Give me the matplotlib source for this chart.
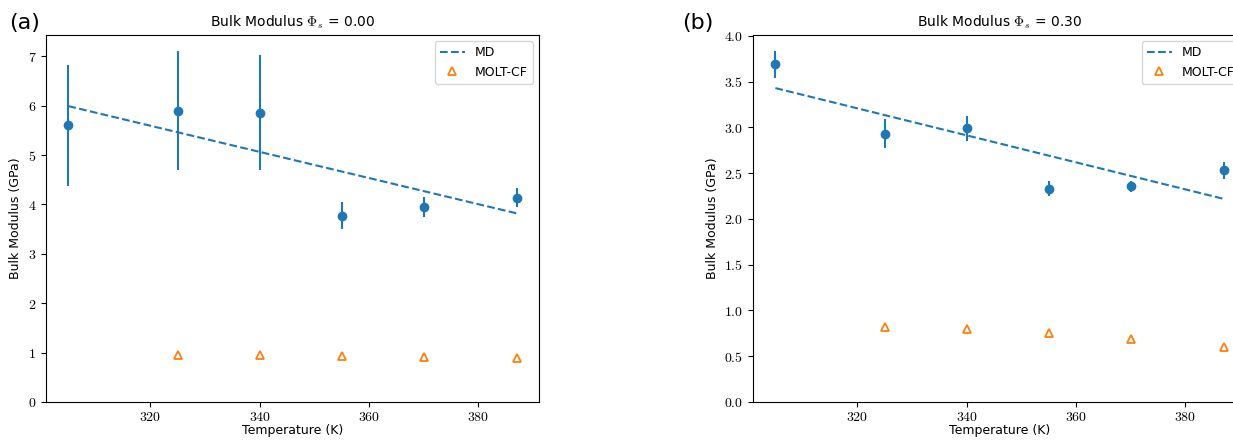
import numpy as np
import matplotlib
matplotlib.use("Agg")
import matplotlib.pyplot as plt
from matplotlib.ticker import FormatStrFormatter

plt.rcParams['mathtext.fontset'] = 'cm'

#### data

temps = [305, 325, 340, 355, 370, 387]
molt_temps = [325, 340, 355, 370, 387]

# (a) phi_s = 0.00
md_a = [5.60, 5.90, 5.86, 3.77, 3.95, 4.14]
md_err_a = [1.22, 1.21, 1.16, 0.27, 0.20, 0.20]
fit_a = [5.99, 3.82]          # dashed MD trend at first / last temperature
molt_a = [0.95, 0.95, 0.93, 0.92, 0.90]

# (b) phi_s = 0.30
md_b = [3.69, 2.93, 2.99, 2.33, 2.36, 2.53]
md_err_b = [0.15, 0.16, 0.14, 0.08, 0.06, 0.09]
fit_b = [3.43, 2.22]
molt_b = [0.82, 0.80, 0.755, 0.69, 0.60]

titles = [r'Bulk Modulus $\Phi_s$ = 0.00', r'Bulk Modulus $\Phi_s$ = 0.30']
panel_tags = ['(a)', '(b)']
yfmt = [r'$%d$', r'$%.1f$']

fig = plt.figure(figsize=(12.33, 4.42), dpi=100)
ax_a = fig.add_axes([0.0373, 0.0905, 0.3998, 0.8303])
ax_b = fig.add_axes([0.6107, 0.0905, 0.3998, 0.8303])

panels = [
    (ax_a, md_a, md_err_a, fit_a, molt_a, 7.43),
    (ax_b, md_b, md_err_b, fit_b, molt_b, 4.01),
]

for i, (ax, md, err, fit, molt, ytop) in enumerate(panels):
    ax.errorbar(temps, md, yerr=err, fmt='o', color='C0', ms=6, elinewidth=1.5)
    ax.plot([temps[0], temps[-1]], fit, '--', color='C0', lw=1.5, label='MD')
    ax.plot(molt_temps, molt, '^', mfc='none', mec='C1', mew=1.3, ms=6,
            linestyle='none', label='MOLT-CF')
    ax.set_ylim(0, ytop)
    ax.set_title(titles[i], fontsize=10)
    ax.set_xlabel('Temperature (K)', fontsize=9, labelpad=0)
    ax.set_ylabel('Bulk Modulus (GPa)', fontsize=9)
    ax.tick_params(labelsize=10)
    ax.tick_params(axis='x', pad=2.5)
    ax.xaxis.set_major_formatter(FormatStrFormatter(r'$%d$'))
    ax.yaxis.set_major_formatter(FormatStrFormatter(yfmt[i]))
    ax.legend(loc='upper right', fontsize=9)

fig.text(0.007, 0.935, panel_tags[0], fontsize=16)
fig.text(0.553, 0.935, panel_tags[1], fontsize=16)

plt.savefig('out.png', dpi=100)
